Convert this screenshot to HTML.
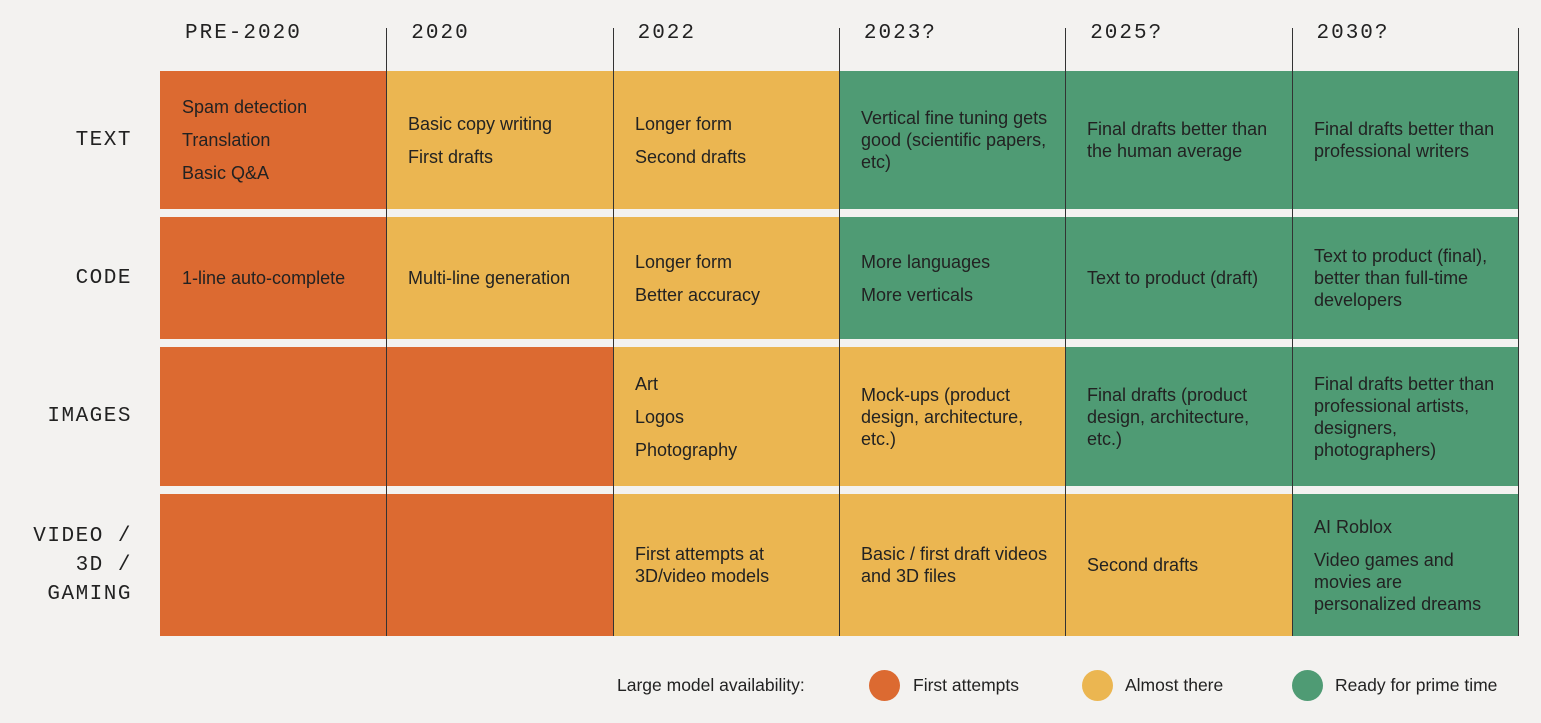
<!DOCTYPE html>
<html><head><meta charset="utf-8">
<style>
body{margin:0;width:1541px;height:723px;background:#f3f2f0;position:relative;overflow:hidden;font-family:"Liberation Sans",sans-serif;color:#222}
.h{position:absolute;top:22px;font-family:"Liberation Mono",monospace;font-size:21px;letter-spacing:2px;color:#222}
.rl{position:absolute;left:0;width:132px;text-align:right;font-family:"Liberation Mono",monospace;font-size:21px;letter-spacing:1.5px;line-height:29px;display:flex;flex-direction:column;justify-content:center;align-items:flex-end}
.c{position:absolute;display:flex;flex-direction:column;justify-content:center;padding-left:22px;box-sizing:border-box;font-size:18px;line-height:22px;color:#222}
.c p{margin:0}
.c p+p{margin-top:11px}
.vl{position:absolute;top:28px;height:608px;width:1px;background:#333}
.lg{position:absolute;top:673px;font-size:17.5px;line-height:24px}
.dot{position:absolute;top:670px;width:31px;height:31px;border-radius:50%}
</style></head><body>
<div id="root"></div>
<div class="lg" style="left:617px">Large model availability:</div>
<div class="dot" style="left:869px;background:#dc6a31"></div>
<div class="lg" style="left:913px">First attempts</div>
<div class="dot" style="left:1082px;background:#ebb651"></div>
<div class="lg" style="left:1125px">Almost there</div>
<div class="dot" style="left:1292px;background:#4f9b74"></div>
<div class="lg" style="left:1335px">Ready for prime time</div>
<script>
const columns=["PRE-2020","2020","2022","2023?","2025?","2030?"];
const rows=["TEXT","CODE","IMAGES","VIDEO /<br>3D /<br>GAMING"];
const levels=[[0,1,1,2,2,2],[0,1,1,2,2,2],[0,0,1,1,2,2],[0,0,1,1,1,2]];
const texts=[
[["Spam detection","Translation","Basic Q&amp;A"],["Basic copy writing","First drafts"],["Longer form","Second drafts"],["Vertical fine tuning gets good (scientific papers, etc)"],["Final drafts better than the human average"],["Final drafts better than professional writers"]],
[["1-line auto-complete"],["Multi-line generation"],["Longer form","Better accuracy"],["More languages","More verticals"],["Text to product (draft)"],["Text to product (final), better than full-time developers"]],
[[],[],["Art","Logos","Photography"],["Mock-ups (product design, architecture, etc.)"],["Final drafts (product design, architecture, etc.)"],["Final drafts better than professional artists, designers, photographers)"]],
[[],[],["First attempts at 3D/video models"],["Basic / first draft videos and 3D files"],["Second drafts"],["AI Roblox","Video games and movies are personalized dreams"]]];
const colors=["#dc6a31","#ebb651","#4f9b74"];
const X0=160,CW=226.3,rowTop=[71,217,347,494],rowBot=[209,339,486,636];
const root=document.getElementById('root');
columns.forEach((c,i)=>{const d=document.createElement('div');d.className='h';d.style.left=(X0+i*CW+25)+'px';d.textContent=c;


root.appendChild(d);});
rows.forEach((r,ri)=>{const d=document.createElement('div');d.className='rl';d.style.top=rowTop[ri]+'px';d.style.height=(rowBot[ri]-rowTop[ri])+'px';d.innerHTML='<div>'+r+'</div>';


root.appendChild(d);
levels[ri].forEach((lv,ci)=>{const c=document.createElement('div');c.className='c';
const x=Math.round(X0+ci*CW),x2=Math.round(X0+(ci+1)*CW);
c.style.left=x+'px';c.style.width=(x2-x)+'px';c.style.top=rowTop[ri]+'px';c.style.height=(rowBot[ri]-rowTop[ri])+'px';c.style.background=colors[lv];
c.style.paddingRight='14px';
c.innerHTML=texts[ri][ci].map(t=>'<p>'+t+'</p>').join('');


root.appendChild(c);});});
for(let i=1;i<=6;i++){const v=document.createElement('div');v.className='vl';v.style.left=Math.round(X0+i*CW)+'px';


root.appendChild(v);}
</script>
</body></html>
